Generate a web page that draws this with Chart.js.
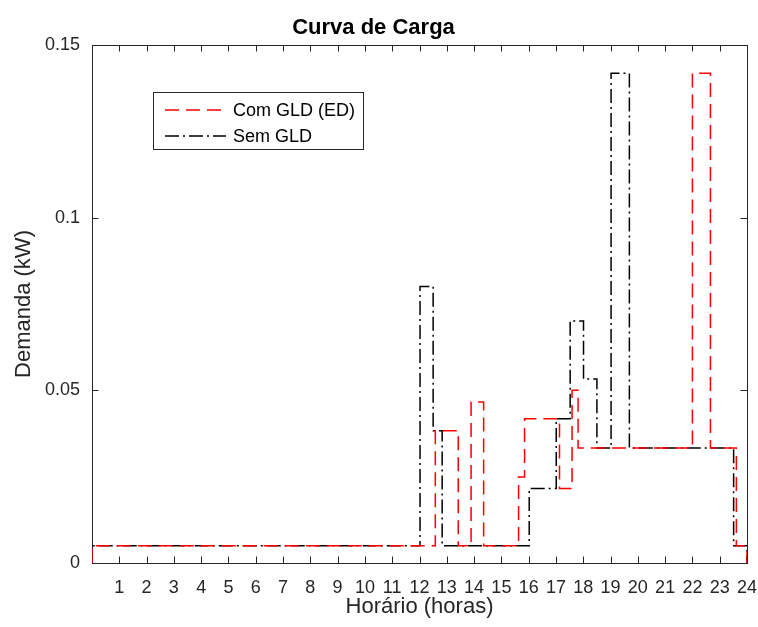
<!DOCTYPE html>
<html>
<head>
<meta charset="utf-8">
<script src="https://cdn.jsdelivr.net/npm/chart.js@4.4.1/dist/chart.umd.min.js"></script>
<style>
  html, body { margin: 0; padding: 0; background: #fff; }
  #wrap { width: 758px; height: 627px; }
</style>
</head>
<body>
<div id="wrap"><canvas id="cargaChart" width="758" height="627"></canvas></div>
<script>
// step breakpoints (hours) and the demand held from each one (kW)
const redTimes = [0, 0, 12.58, 13.42, 13.89, 14.35, 15.63, 15.85, 17.13, 17.59, 17.81, 22.0, 22.66, 23.61, 24, 24];
const redValues = [0, 0.005, 0.0383, 0.005, 0.0466, 0.005, 0.0249, 0.0418, 0.0216, 0.05, 0.0333, 0.1418, 0.0333, 0.005, 0.005, 0];

const blackTimes = [0, 0, 12.02, 12.5, 12.83, 16.02, 17.01, 17.52, 18.01, 18.5, 19.02, 19.69, 23.51, 24, 24];
const blackValues = [0, 0.005, 0.0801, 0.0383, 0.005, 0.0216, 0.0418, 0.0701, 0.0533, 0.0333, 0.1418, 0.0333, 0.005, 0.005, 0];

const seriesNames = ['Com GLD (ED)', 'Sem GLD'];

const xTicks = [0, 1, 2, 3, 4, 5, 6, 7, 8, 9, 10, 11, 12, 13, 14, 15, 16, 17, 18, 19, 20, 21, 22, 23, 24];
const xTickLabels = ['', '1', '2', '3', '4', '5', '6', '7', '8', '9', '10', '11', '12', '13', '14', '15', '16', '17', '18', '19', '20', '21', '22', '23', '24'];
const yTicks = [0, 0.05, 0.1, 0.15];
const yTickLabels = ['0', '0.05', '0.1', '0.15'];

function toPoints(xs, ys) {
  return xs.map((x, i) => ({ x: x, y: ys[i] }));
}

const axisColor = '#262626';
const fontFam = '"Liberation Sans", Arial, Helvetica, sans-serif';

// matlab style box with inward ticks + legend box
const matlabAxes = {
  id: 'matlabAxes',
  beforeDatasetsDraw(chart) {
    const { ctx, chartArea: a, scales: { x, y } } = chart;
    const tl = 6.5;
    ctx.save();
    ctx.strokeStyle = axisColor;
    ctx.lineWidth = 1;
    ctx.beginPath();
    xTicks.forEach(v => {
      const px = Math.round(x.getPixelForValue(v)) + 0.5;
      ctx.moveTo(px, a.bottom); ctx.lineTo(px, a.bottom - tl);
      ctx.moveTo(px, a.top); ctx.lineTo(px, a.top + tl);
    });
    yTicks.forEach(v => {
      const py = Math.round(y.getPixelForValue(v)) + 0.5;
      ctx.moveTo(a.left, py); ctx.lineTo(a.left + tl, py);
      ctx.moveTo(a.right, py); ctx.lineTo(a.right - tl, py);
    });
    ctx.stroke();
    ctx.strokeRect(Math.round(a.left) + 0.5, Math.round(a.top) + 0.5,
      Math.round(a.right - a.left), Math.round(a.bottom - a.top));
    ctx.restore();
  },
  afterDraw(chart) {
    const ctx = chart.ctx;
    const bx = 153, by = 92, bw = 210, bh = 57;
    ctx.save();
    ctx.fillStyle = '#fff';
    ctx.fillRect(bx, by, bw, bh);
    ctx.strokeStyle = axisColor;
    ctx.lineWidth = 1;
    ctx.strokeRect(bx + 0.5, by + 0.5, bw, bh);
    ctx.font = '18px ' + fontFam;
    ctx.textBaseline = 'middle';
    chart.data.datasets.forEach((ds, i) => {
      const ly = 110 + i * 26;
      ctx.strokeStyle = ds.borderColor;
      ctx.lineWidth = ds.borderWidth;
      ctx.setLineDash(ds.borderDash);
      ctx.beginPath();
      ctx.moveTo(165, ly); ctx.lineTo(226, ly);
      ctx.stroke();
      ctx.setLineDash([]);
      ctx.fillStyle = '#000';
      ctx.fillText(ds.label, 233, ly + 1);
    });
    ctx.restore();
  }
};

const config = {
  type: 'line',
  data: {
    datasets: [{
      label: seriesNames[0],
      data: toPoints(redTimes, redValues),
      borderColor: '#ff0000',
      borderWidth: 1.5,
      borderDash: [14, 7],
      stepped: true,
      pointRadius: 0,
      fill: false
    }, {
      label: seriesNames[1],
      data: toPoints(blackTimes, blackValues),
      borderColor: '#000000',
      borderWidth: 1.5,
      borderDash: [14, 4, 2, 4],
      stepped: true,
      pointRadius: 0,
      fill: false
    }]
  },
  options: {
    responsive: false,
    animation: false,
    layout: { padding: { left: 0, right: 11, top: 0, bottom: 0 } },
    plugins: {
      legend: { display: false },
      tooltip: { enabled: false },
      title: {
        display: true,
        text: 'Curva de Carga',
        color: '#000',
        font: { family: fontFam, size: 22, weight: 'bold', lineHeight: 1.2 },
        padding: { top: 15, bottom: 3.6 }
      }
    },
    scales: {
      x: {
        type: 'linear',
        min: 0,
        max: 24,
        border: { display: false },
        grid: { display: false, drawTicks: false },
        afterFit: s => { s.height = 64; s.paddingLeft = 0; s.paddingRight = 0; },
        ticks: {
          stepSize: 1,
          autoSkip: false,
          maxRotation: 0,
          padding: 14,
          color: axisColor,
          font: { family: fontFam, size: 18 },
          callback: v => xTickLabels[xTicks.indexOf(v)]
        },
        title: {
          display: true,
          text: 'Horário (horas)',
          color: axisColor,
          font: { family: fontFam, size: 22 },
          padding: { top: 0, bottom: 7 }
        }
      },
      y: {
        min: 0,
        max: 0.15,
        border: { display: false },
        grid: { display: false, drawTicks: false },
        afterFit: s => { s.width = 92; },
        ticks: {
          stepSize: 0.05,
          padding: 12,
          color: axisColor,
          font: { family: fontFam, size: 18 },
          callback: v => yTickLabels[Math.round(v / 0.05)]
        },
        title: {
          display: true,
          text: 'Demanda (kW)',
          color: axisColor,
          font: { family: fontFam, size: 22 },
          padding: { top: 11, bottom: 0 }
        }
      }
    }
  },
  plugins: [matlabAxes]
};

const cargaChart = new Chart(document.getElementById('cargaChart'), config);
</script>
</body>
</html>
